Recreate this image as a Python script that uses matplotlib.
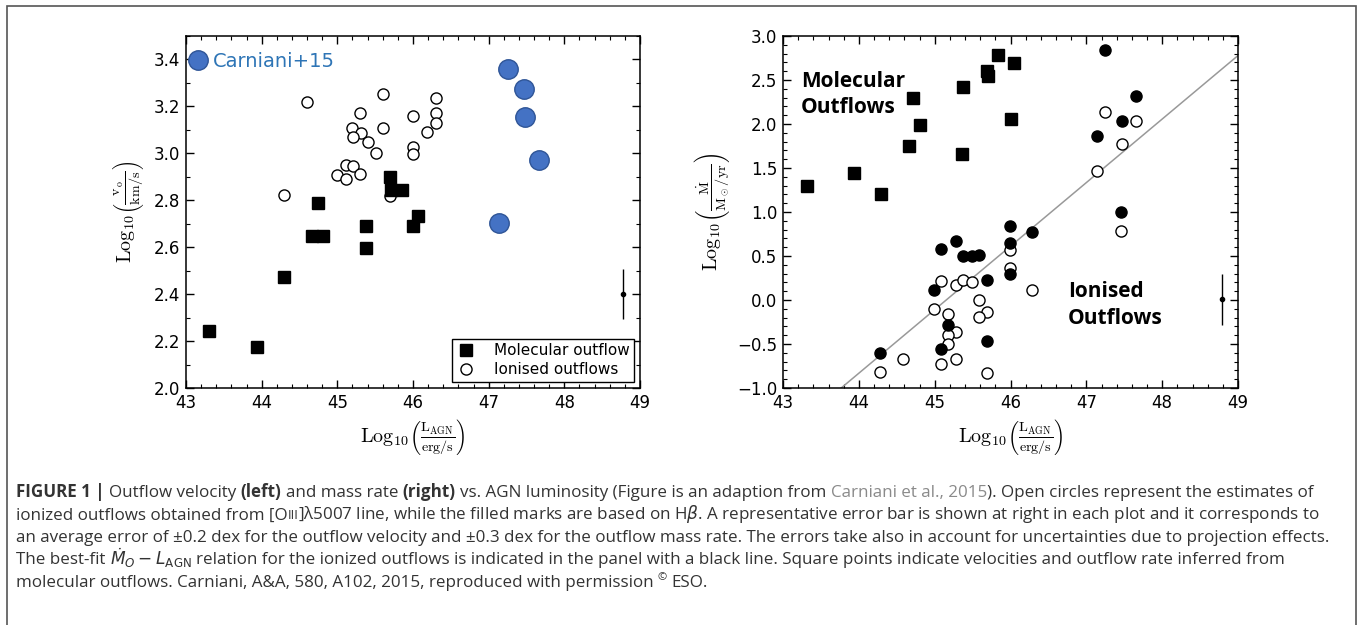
import matplotlib
matplotlib.use('Agg')
import matplotlib.pyplot as plt
from matplotlib.ticker import MultipleLocator
from matplotlib.lines import Line2D
from matplotlib.patches import Rectangle
import numpy as np

# ---- left panel: outflow velocity ----
vel_mol_x = [43.31, 43.94, 44.30, 44.67, 44.81, 44.74, 45.38, 45.38, 46.00, 46.06, 45.70, 45.71, 45.85]
vel_mol_y = [2.244, 2.173, 2.472, 2.646, 2.646, 2.789, 2.69, 2.596, 2.69, 2.733, 2.90, 2.844, 2.844]

vel_ion_x = [44.60, 45.61, 46.30, 45.30, 46.30, 46.00, 46.30, 45.20, 45.61, 46.19, 45.31, 45.21,
             45.41, 45.51, 46.00, 46.00, 45.11, 45.21, 45.00, 45.30, 45.11, 44.30, 45.70]
vel_ion_y = [3.22, 3.254, 3.237, 3.174, 3.174, 3.16, 3.128, 3.106, 3.106, 3.089, 3.086, 3.071,
             3.049, 3.0, 3.026, 2.997, 2.95, 2.946, 2.909, 2.911, 2.889, 2.823, 2.82]

carniani_x = [47.25, 47.47, 47.48, 47.66, 47.14]
carniani_y = [3.36, 3.276, 3.154, 2.97, 2.703]

vel_err = (48.77, 2.40, 0.105)

# ---- right panel: mass outflow rate ----
rate_mol_x = [43.31, 43.93, 44.29, 44.66, 44.72, 44.80, 45.37, 45.36, 45.69, 45.70, 45.83, 46.05, 46.00]
rate_mol_y = [1.29, 1.44, 1.21, 1.746, 2.295, 1.99, 2.424, 1.66, 2.606, 2.54, 2.78, 2.69, 2.057]

rate_hb_x = [47.24, 47.65, 47.47, 47.14, 47.46, 45.99, 46.29, 45.99, 45.28, 45.08, 45.38, 45.49,
             45.59, 45.99, 45.69, 44.99, 45.18, 45.69, 45.08, 44.28]
rate_hb_y = [2.84, 2.318, 2.034, 1.867, 1.0, 0.843, 0.771, 0.643, 0.665, 0.578, 0.499, 0.499,
             0.507, 0.299, 0.231, 0.113, -0.287, -0.469, -0.556, -0.605]

rate_oiii_x = [47.24, 47.65, 47.47, 47.14, 47.46, 45.99, 45.99, 46.29, 45.08, 45.28, 45.38, 45.49,
               45.59, 44.99, 45.18, 45.69, 45.59, 45.28, 45.18, 45.18, 44.58, 45.28, 45.08, 44.28, 45.69]
rate_oiii_y = [2.14, 2.034, 1.773, 1.47, 0.779, 0.571, 0.363, 0.113, 0.212, 0.174, 0.227, 0.204,
               0.004, -0.106, -0.155, -0.132, -0.193, -0.359, -0.393, -0.499, -0.669, -0.669, -0.73, -0.82, -0.832]

fit_slope = 0.722
fit_intercept = -32.60
rate_err = (48.79, 0.01, 0.29)

W, H = 1358, 625
plt.rcParams['mathtext.fontset'] = 'cm'
fig = plt.figure(figsize=(W / 100, H / 100), dpi=100)

def px_axes(x0, x1, y0, y1):
    return fig.add_axes([x0 / W, 1 - y1 / H, (x1 - x0) / W, (y1 - y0) / H])

ax1 = px_axes(186, 640, 36, 388)
ax2 = px_axes(783, 1238, 36, 388)

xlab = r'$\mathrm{Log}_{10}\left(\frac{\mathrm{L_{AGN}}}{\mathrm{erg/s}}\right)$'

for ax in (ax1, ax2):
    ax.set_xlim(43, 49)
    ax.xaxis.set_major_locator(MultipleLocator(1))
    ax.xaxis.set_minor_locator(MultipleLocator(0.2))
    ax.tick_params(which='both', direction='in', top=True, right=True, labelsize=12, pad=4)
    ax.tick_params(which='major', length=6, width=1)
    ax.tick_params(which='minor', length=3, width=0.8)
    for s in ax.spines.values():
        s.set_linewidth(1.1)
    ax.set_xlabel(xlab, fontsize=14.5, labelpad=4)

# left
ax1.set_ylim(2.0, 3.5)
ax1.yaxis.set_major_locator(MultipleLocator(0.2))
ax1.yaxis.set_minor_locator(MultipleLocator(0.1))
ax1.set_yticks(np.arange(2.0, 3.41, 0.2))
ax1.set_ylabel(r'$\mathrm{Log}_{10}\left(\frac{\mathrm{v_o}}{\mathrm{km/s}}\right)$', fontsize=14.5, labelpad=6)

ax1.plot(vel_ion_x, vel_ion_y, 'o', ms=8, mfc='white', mec='black', mew=1.0, ls='none', zorder=3)
ax1.plot(vel_mol_x, vel_mol_y, 's', ms=9, color='black', ls='none', zorder=4)
blue = ax1.plot(carniani_x, carniani_y, 'o', ms=14, mfc='#4472c4', mec='#2f5597', mew=1.0,
                ls='none', zorder=5)[0]
ax1.errorbar(vel_err[0], vel_err[1], yerr=vel_err[2], fmt='o', ms=3, color='black', elinewidth=1, capsize=0)

lg_c = ax1.legend([blue], ['Carniani+15'], loc='upper left', bbox_to_anchor=(-0.005, 0.972),
                  frameon=False, fontsize=14, labelcolor='#2e75b6', handlelength=0.9,
                  handletextpad=0.3, borderaxespad=0, borderpad=0.3)
ax1.add_artist(lg_c)
h_mol = Line2D([], [], marker='s', ms=9, color='black', ls='none')
h_ion = Line2D([], [], marker='o', ms=8, mfc='white', mec='black', ls='none')
ax1.legend([h_mol, h_ion], ['Molecular outflow', 'Ionised outflows'], loc='lower right',
           fontsize=11, fancybox=False, edgecolor='black', framealpha=1, handletextpad=1.2,
           borderaxespad=0.4, borderpad=0.3, labelspacing=0.25, handlelength=1.2)
ax1.get_legend().get_frame().set_linewidth(1.0)

# right
ax2.set_ylim(-1.0, 3.0)
ax2.yaxis.set_major_locator(MultipleLocator(0.5))
ax2.yaxis.set_minor_locator(MultipleLocator(0.1))
ax2.set_ylabel(r'$\mathrm{Log}_{10}\left(\frac{\dot{\mathrm{M}}}{\mathrm{M_\odot/yr}}\right)$', fontsize=14.5, labelpad=4)
fx = np.array([43, 49])
ax2.plot(fx, fit_slope * fx + fit_intercept, color='#999999', lw=1.1, zorder=2)
ax2.plot(rate_oiii_x, rate_oiii_y, 'o', ms=8, mfc='white', mec='black', mew=1.0, ls='none', zorder=3)
ax2.plot(rate_hb_x, rate_hb_y, 'o', ms=8, color='black', ls='none', zorder=4)
ax2.plot(rate_mol_x, rate_mol_y, 's', ms=9, color='black', ls='none', zorder=4)
ax2.errorbar(rate_err[0], rate_err[1], yerr=rate_err[2], fmt='o', ms=3, color='black', elinewidth=1, capsize=0)
ax2.text(0.04, 0.90, 'Molecular\nOutflows', transform=ax2.transAxes, fontsize=15, fontweight='bold',
         family='Open Sans', va='top', ha='left', linespacing=1.3)
ax2.text(0.626, 0.235, 'Ionised\nOutflows', transform=ax2.transAxes, fontsize=15, fontweight='bold',
         family='Open Sans', va='center', ha='left', linespacing=1.4)

# outer frame
fig.patches.append(Rectangle((7 / W, -0.05), (1356 - 7) / W, 1.05 - 6 / H, transform=fig.transFigure,
                             fill=False, edgecolor='#555555', lw=1.2))

# ---- caption ----
cap_font = 'Open Sans'
dark = '#333333'
grey = '#8a8a8a'
caption = [
    [('FIGURE 1 |', 'b', dark), (' Outflow velocity ', 'n', dark), ('(left)', 'b', dark),
     (' and mass rate ', 'n', dark), ('(right)', 'b', dark),
     (' vs. AGN luminosity (Figure is an adaption from ', 'n', dark), ('Carniani et al., 2015', 'n', grey),
     ('). Open circles represent the estimates of', 'n', dark)],
    [('ionized outflows obtained from [O', 'n', dark), ('III', 's', dark),
     (']λ5007 line, while the filled marks are based on H$\\beta$. A representative error bar is shown at right in each plot and it corresponds to', 'n', dark)],
    [('an average error of ±0.2 dex for the outflow velocity and ±0.3 dex for the outflow mass rate. The errors take also in account for uncertainties due to projection effects.', 'n', dark)],
    [('The best-fit ', 'n', dark), (r'$Ṁ_O - L_{\mathrm{AGN}}$', 'n', dark),
     (' relation for the ionized outflows is indicated in the panel with a black line. Square points indicate velocities and outflow rate inferred from', 'n', dark)],
    [('molecular outflows. Carniani, A&A, 580, A102, 2015, reproduced with permission ', 'n', dark),
     ('©', 'u', dark), (' ESO.', 'n', dark)],
]

renderer = fig.canvas.get_renderer()

def measure(s, **kw):
    t = fig.text(0, 0, s, **kw)
    w = t.get_window_extent(renderer).width
    t.remove()
    return w

# size the caption so the longest line spans the frame like the original
cap_size = 10.0 * 1314 / measure(caption[2][0][0], family=cap_font, fontsize=10.0)

base_kw = dict(family=cap_font, fontsize=cap_size, math_fontfamily='dejavusans')
space_w = measure('a a', **base_kw) - measure('aa', **base_kw)

y0, dy = 497, 22.4
for i, line in enumerate(caption):
    x = 16
    yb = y0 + i * dy
    for s, style, col in line:
        kw = dict(base_kw)
        kw['color'] = col
        yy = yb
        if style == 'b':
            kw['fontweight'] = 'bold'
        elif style == 's':
            kw['fontsize'] = cap_size * 0.75
        elif style == 'u':
            kw['fontsize'] = cap_size * 0.65
            yy = yb - 6
        lead = len(s) - len(s.lstrip(' '))
        trail = len(s) - len(s.rstrip(' '))
        x += lead * space_w
        core = s.strip(' ')
        t = fig.text(x / W, 1 - yy / H, core, va='baseline', ha='left', **kw)
        x += t.get_window_extent(renderer).width + trail * space_w

fig.savefig('out.png', dpi=100)
